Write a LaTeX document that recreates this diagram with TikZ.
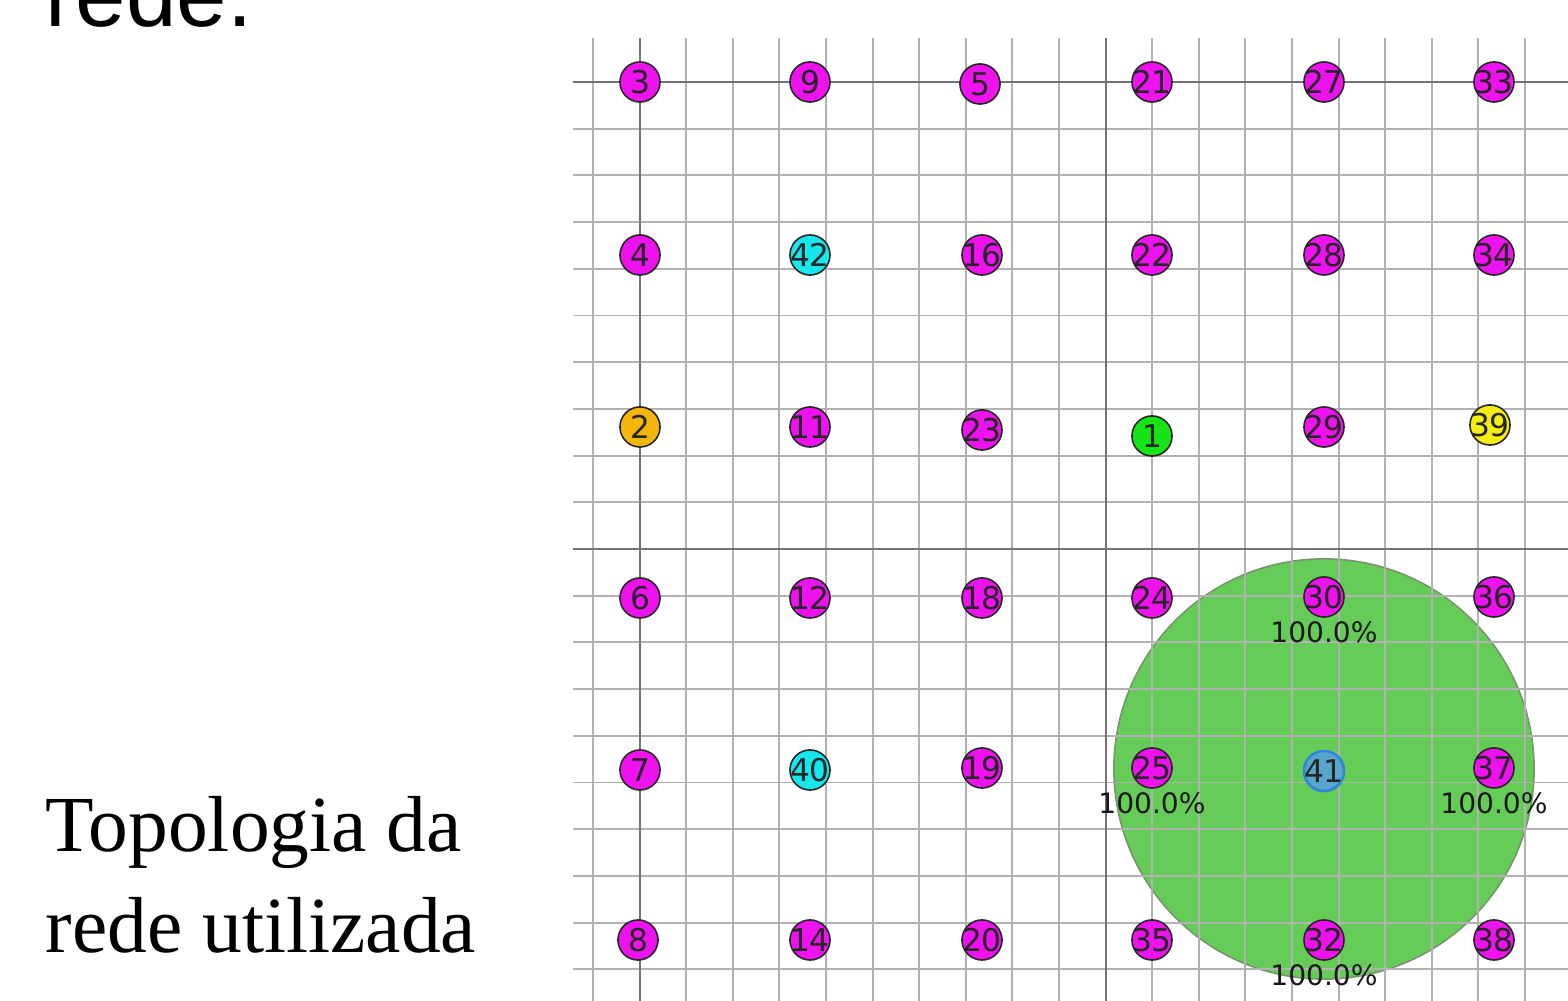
\documentclass[tikz,border=0pt]{standalone}
\usepackage{fontspec}
\setmainfont{Liberation Serif}
\newfontfamily\slidefont{Liberation Sans}
\newfontfamily\simfont{DejaVu Sans}
\usepackage{tikz}
\usetikzlibrary{positioning}
\definecolor{motemag}{HTML}{EE12EE}
\definecolor{motecyan}{HTML}{14E8EC}
\definecolor{moteorange}{HTML}{F5B60C}
\definecolor{motegreen}{HTML}{16E416}
\definecolor{moteyellow}{HTML}{F4EE10}
\definecolor{sinkfill}{HTML}{58A6CC}
\definecolor{sinkring}{HTML}{2F86D6}
\definecolor{rangefill}{HTML}{66CC58}
\definecolor{rangeedge}{HTML}{78946E}

\begin{document}
\begin{tikzpicture}[
  x=0.01cm, y=-0.01cm,
  minorline/.style={draw=black!30, line width=0.55pt},
  majorline/.style={draw=black!55, line width=0.6pt},
  mote/.style={circle, draw=black!85, line width=0.45pt, fill=motemag, minimum size=11.4pt, inner sep=-1pt,
    text=black!85, font=\simfont\fontsize{8.9}{9}\selectfont},
  pct/.style={inner sep=0pt, text=black!90, font=\simfont\fontsize{8}{9}\selectfont},
  coverage/.style={circle, draw=rangeedge, line width=0.45pt, fill=rangefill, minimum size=4.2cm, inner sep=0pt}
]
\useasboundingbox (0,0) rectangle (1568,1001);

% slide text
\node[anchor=base west, inner sep=0pt, font=\slidefont\fontsize{25.8}{30}\selectfont] (cut) at (45,27) {rede.};
\node[anchor=base west, inner sep=0pt, font=\fontsize{22.6}{28}\selectfont] (cap1) at (45,852) {Topologia da};
\node[anchor=base west, inner sep=0pt, font=\fontsize{22.6}{28}\selectfont] (cap2) at (45,953) {rede utilizada};

% coverage of node 41
\node[coverage] (cov) at (1324,769) {};

% grid
\foreach \k in {0,...,20}
  \draw[minorline] ({593+46.6*\k},38) -- ({593+46.6*\k},1001);
\foreach \k in {0,...,19}
  \draw[minorline] (573,{82+46.7*\k}) -- (1568,{82+46.7*\k});
\draw[majorline] (639.6,38) -- (639.6,1001);
\draw[majorline] (1105.6,38) -- (1105.6,1001);
\draw[majorline] (573,82) -- (1568,82);
\draw[majorline] (573,549) -- (1568,549);

% motes
\node[mote] (n3) at (640,82) {3};
\node[mote] (n9) at (810,82) {9};
\node[mote] (n5) at (980,84) {5};
\node[mote] (n21) at (1152,82) {21};
\node[mote] (n27) at (1324,82) {27};
\node[mote] (n33) at (1494,82) {33};

\node[mote] (n4) at (640,255) {4};
\node[mote, fill=motecyan] (n42) at (810,255) {42};
\node[mote] (n16) at (982,255) {16};
\node[mote] (n22) at (1152,255) {22};
\node[mote] (n28) at (1324,255) {28};
\node[mote] (n34) at (1494,255) {34};

\node[mote, fill=moteorange] (n2) at (640,427) {2};
\node[mote] (n11) at (810,427) {11};
\node[mote] (n23) at (982,430) {23};
\node[mote, fill=motegreen] (n1) at (1152,436) {1};
\node[mote] (n29) at (1324,427) {29};
\node[mote, fill=moteyellow] (n39) at (1490,425) {39};

\node[mote] (n6) at (640,598) {6};
\node[mote] (n12) at (810,598) {12};
\node[mote] (n18) at (982,598) {18};
\node[mote] (n24) at (1152,598) {24};
\node[mote] (n30) at (1324,597) {30};
\node[mote] (n36) at (1494,597) {36};

\node[mote] (n7) at (640,770) {7};
\node[mote, fill=motecyan] (n40) at (810,770) {40};
\node[mote] (n19) at (982,768) {19};
\node[mote] (n25) at (1152,768) {25};
\node[mote, fill=sinkfill, draw=sinkring, line width=0.75pt] (n41) at (1324,771) {41};
\node[mote] (n37) at (1494,768) {37};

\node[mote] (n8) at (638,940) {8};
\node[mote] (n14) at (810,940) {14};
\node[mote] (n20) at (982,940) {20};
\node[mote] (n35) at (1152,940) {35};
\node[mote] (n32) at (1324,940) {32};
\node[mote] (n38) at (1494,940) {38};

% delivery ratio
\node[pct, below=1pt of n30] (p30) {100.0\%};
\node[pct, below=1pt of n25] (p25) {100.0\%};
\node[pct, below=1pt of n37] (p37) {100.0\%};
\node[pct, below=1pt of n32] (p32) {100.0\%};
\end{tikzpicture}
\end{document}
